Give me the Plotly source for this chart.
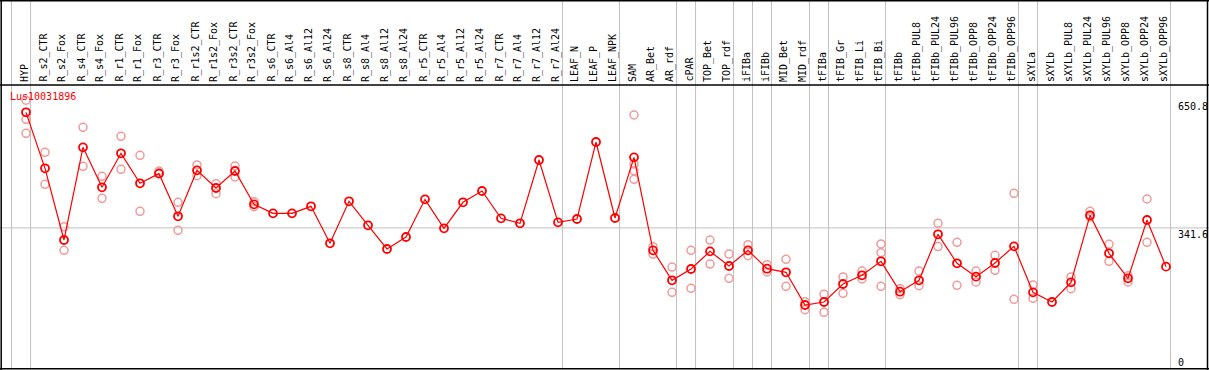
import plotly.graph_objects as go

title = "Lus10031896"
categories = ["HYP", "R_s2_CTR", "R_s2_Fox", "R_s4_CTR", "R_s4_Fox", "R_r1_CTR", "R_r1_Fox",
              "R_r3_CTR", "R_r3_Fox", "R_r1s2_CTR", "R_r1s2_Fox", "R_r3s2_CTR", "R_r3s2_Fox",
              "R_s6_CTR", "R_s6_Al4", "R_s6_Al12", "R_s6_Al24", "R_s8_CTR", "R_s8_Al4",
              "R_s8_Al12", "R_s8_Al24", "R_r5_CTR", "R_r5_Al4", "R_r5_Al12", "R_r5_Al24",
              "R_r7_CTR", "R_r7_Al4", "R_r7_Al12", "R_r7_Al24", "LEAF_N", "LEAF_P", "LEAF_NPK",
              "SAM", "AR_Bet", "AR_rdf", "cPAR", "TOP_Bet", "TOP_rdf", "iFIBa", "iFIBb",
              "MID_Bet", "MID_rdf", "tFIBa", "tFIB_Gr", "tFIB_Li", "tFIB_Bi", "tFIBb",
              "tFIBb_PUL8", "tFIBb_PUL24", "tFIBb_PUL96", "tFIBb_OPP8", "tFIBb_OPP24", "tFIBb_OPP96",
              "sXYLa", "sXYLb", "sXYLb_PUL8", "sXYLb_PUL24", "sXYLb_PUL96", "sXYLb_OPP8",
              "sXYLb_OPP24", "sXYLb_OPP96"]

mean_values = [621.5, 485.9, 312.4, 536.7, 439.9, 522.2, 449.6, 473.0, 369.7, 481.0, 438.3,
               479.4, 398.7, 376.9, 376.9, 393.9, 304.3, 406.0, 347.9, 290.6, 319.6, 410.8,
               340.6, 403.6, 431.0, 364.8, 352.7, 506.1, 355.1, 363.2, 549.6, 365.6,
               512.5, 287.3, 214.7, 242.1, 284.9, 249.4, 287.3, 242.9, 234.1, 155.0, 162.2,
               205.8, 226.8, 260.7, 187.2, 214.7, 326.1, 255.9, 223.6, 256.7, 297.0,
               185.6, 162.2, 209.8, 372.1, 280.1, 219.5, 360.8, 247.8]

replicate_values = [
    [650.8, 604.5, 570.6], [524.6, 447.1], [344.6, 287.3], [585.2, 490.7], [466.5, 413.2],
    [563.4, 483.5], [517.4, 381.8], [479.4, 475.0], [403.6, 335.8], [494.0, 468.1],
    [448.8, 424.5], [491.5, 464.9], [405.2, 393.0], [], [], [], [], [], [], [], [], [],
    [], [], [], [], [], [], [], [], [], [],
    [615.0, 496.4, 480.2, 459.3], [296.2, 278.4], [246.9, 185.6], [287.3, 195.3],
    [312.3, 254.2], [278.4, 219.5], [301.0, 274.4], [252.6, 234.9], [265.5, 200.2],
    [163.0, 143.7], [180.8, 137.2], [222.8, 183.2], [237.3, 217.9], [302.7, 281.7, 200.2],
    [194.5, 180.0], [237.3, 201.7], [352.7, 296.5], [306.7, 202.5], [237.3, 210.7],
    [275.2, 238.9], [425.3, 168.7], [203.4, 171.1], [], [222.8, 194.5], [381.8, 368.0],
    [301.9, 260.7], [226.0, 210.7], [411.6, 306.7], []]

axis_labels = ["650.8", "341.6", "0"]
axis_label_values = [650.8, 341.6, 0]
group_ends = [-1, 0, 28, 31, 34, 35, 37, 38, 39, 41, 42, 45, 52, 53, 60]

W, H = 1209, 370
PX_PER_COL = 19.0
x_min = -26.0 / PX_PER_COL
x_max = x_min + W / PX_PER_COL
plot_top_px = 85
y_scale = 0.413
y_min = -1.0 / y_scale
y_max = y_min + (H - plot_top_px) / y_scale

xs = list(range(len(categories)))
rep_x, rep_y = [], []
for i, reps in enumerate(replicate_values):
    for v in reps:
        rep_x.append(i)
        rep_y.append(v)

fig = go.Figure()
fig.add_trace(go.Scatter(x=rep_x, y=rep_y, mode="markers",
                         marker=dict(symbol="circle-open", size=8, color="#f09a9a",
                                     line=dict(width=1.5, color="#f09a9a")),
                         hoverinfo="skip", showlegend=False))
fig.add_trace(go.Scatter(x=xs, y=mean_values, mode="lines+markers",
                         line=dict(color="#ff0000", width=1.2),
                         marker=dict(symbol="circle-open", size=8, color="#ff0000",
                                     line=dict(width=1.8, color="#ff0000")),
                         hoverinfo="skip", showlegend=False))

shapes = []
for g in group_ends:
    shapes.append(dict(type="line", xref="x", yref="paper", x0=g + 0.24, x1=g + 0.24,
                       y0=0, y1=1, line=dict(color="#c0c0c0", width=1), layer="below"))
shapes.append(dict(type="line", xref="paper", yref="y", x0=0, x1=1, y0=341.6, y1=341.6,
                   line=dict(color="#c0c0c0", width=1), layer="below"))
# frame
black = dict(color="#000000", width=1.5)
shapes += [
    dict(type="line", xref="paper", yref="paper", x0=0, x1=1, y0=1 - 0.7 / H, y1=1 - 0.7 / H, line=black),
    dict(type="line", xref="paper", yref="paper", x0=0, x1=1, y0=1 - 85 / H, y1=1 - 85 / H, line=black),
    dict(type="line", xref="paper", yref="paper", x0=0, x1=1, y0=1.2 / H, y1=1.2 / H, line=black),
    dict(type="line", xref="paper", yref="paper", x0=1.2 / W, x1=1.2 / W, y0=0, y1=1, line=black),
    dict(type="line", xref="paper", yref="paper", x0=1 - 1.5 / W, x1=1 - 1.5 / W, y0=0, y1=1, line=black),
]

font_family = "DejaVu Sans Mono"
annotations = []
for i, c in enumerate(categories):
    annotations.append(dict(x=i - 0.1, xref="x", y=1 - 83 / H, yref="paper", text=c,
                            textangle=-90, showarrow=False, xanchor="center", yanchor="bottom",
                            font=dict(family=font_family, size=10, color="#000000"), borderpad=0))
annotations.append(dict(x=9 / W, xref="paper", y=1 - 96 / H, yref="paper", text=title,
                        showarrow=False, xanchor="left", yanchor="middle",
                        font=dict(family=font_family, size=10, color="#ff0000"), borderpad=0))
for lab, v in zip(axis_labels, axis_label_values):
    annotations.append(dict(x=1177 / W, xref="paper", y=v, yref="y", text=lab, showarrow=False,
                            xanchor="left", yanchor="bottom" if v == 0 else "top",
                            font=dict(family=font_family, size=10, color="#000000"), borderpad=0))

fig.update_layout(
    width=W, height=H, margin=dict(l=0, r=0, t=0, b=0),
    paper_bgcolor="white", plot_bgcolor="white",
    xaxis=dict(range=[x_min, x_max], showgrid=False, zeroline=False, showticklabels=False,
               showline=False, fixedrange=True),
    yaxis=dict(range=[y_min, y_max], domain=[0, (H - plot_top_px) / H], showgrid=False,
               zeroline=False, showticklabels=False, showline=False, fixedrange=True),
    shapes=shapes, annotations=annotations, showlegend=False,
    font=dict(family=font_family),
)
fig.write_html("out.html", config={"displayModeBar": False},
               post_script="document.body.style.margin='0';document.body.style.overflow='hidden';")
